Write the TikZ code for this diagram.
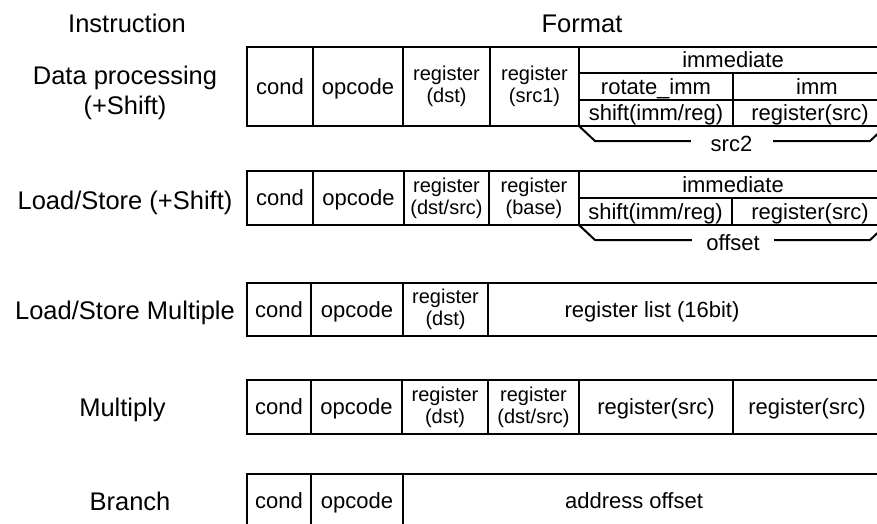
\documentclass[tikz,border=0pt]{standalone}
\usepackage{fontspec}
\setmainfont{Liberation Sans}

\begin{document}
\begin{tikzpicture}[x=1pt, y=-1pt, line width=2pt,
		heading/.style={font=\fontsize{25.5}{28}\selectfont, text height=18pt, text depth=0pt, inner sep=0pt},
		field/.style={font=\fontsize{22}{24}\selectfont, text height=15.8pt, text depth=0pt, inner sep=0pt},
		regfield/.style={font=\fontsize{20}{22}\selectfont, align=center, inner sep=0pt},
		bracelabel/.style={field, fill=white, minimum width=82pt}]
	\useasboundingbox (0,0) rectangle (877,523);
	\clip (0,0) rectangle (877,523);

	\node[heading] (instr) at (127,23.5) {Instruction};
	\node[heading] (format) at (582,23) {Format};

	% instruction names
	\node[heading] (dp) at (125,75) {Data processing};
	\node[heading] (dpshift) at (125,105.5) {(+Shift)};
	\node[heading] (ls) at (125,200) {Load/Store (+Shift)};
	\node[heading] (lsm) at (125,310.5) {Load/Store Multiple};
	\node[heading] (mul) at (122.5,407) {Multiply};
	\node[heading] (br) at (130,501) {Branch};

	% data processing
	\draw (880,47) -- (247,47) -- (247,126) -- (880,126);
	\foreach \x in {313, 403, 490, 579}
		\draw (\x,47) -- (\x,126);
	\draw (579,73) -- (880,73) (579,100) -- (880,100) (733,73) -- (733,126);
	\node[field] (dp-cond) at (280,86.5) {cond};
	\node[field] (dp-op) at (358,86.5) {opcode};
	\node[regfield] (dp-dst) at (446.5,86.5) {register\\(dst)};
	\node[regfield] (dp-src1) at (534.5,86.5) {register\\(src1)};
	\node[field] (dp-imm) at (733,60) {immediate};
	\node[field] (dp-rot) at (656,86.5) {rotate\_imm};
	\node[field] (dp-immval) at (817,86.5) {imm};
	\node[field] (dp-shift) at (656,113) {shift(imm/reg)};
	\node[field] (dp-src) at (810,113) {register(src)};
	\draw (579,126) -- (595,141) -- (870,141) -- (886,126);
	\node[bracelabel] (dp-src2) at (731.5,144) {src2};

	% load/store
	\draw (880,171) -- (247,171) -- (247,225) -- (880,225);
	\foreach \x in {313, 404, 489, 579}
		\draw (\x,171) -- (\x,225);
	\draw (579,198) -- (880,198) (732,198) -- (732,225);
	\node[field] (ls-cond) at (280,198) {cond};
	\node[field] (ls-op) at (358.5,198) {opcode};
	\node[regfield] (ls-dst) at (446.5,198) {register\\(dst/src)};
	\node[regfield] (ls-base) at (534,198) {register\\(base)};
	\node[field] (ls-imm) at (733,184.5) {immediate};
	\node[field] (ls-shift) at (655.5,211.5) {shift(imm/reg)};
	\node[field] (ls-src) at (810,211.5) {register(src)};
	\draw (579,225) -- (595,240) -- (870,240) -- (886,225);
	\node[bracelabel] (ls-offset) at (733,243) {offset};

	% load/store multiple
	\draw (880,283) -- (247,283) -- (247,336) -- (880,336);
	\foreach \x in {311, 403, 488}
		\draw (\x,283) -- (\x,336);
	\node[field] (lsm-cond) at (279,309.5) {cond};
	\node[field] (lsm-op) at (357,309.5) {opcode};
	\node[regfield] (lsm-dst) at (445.5,309.5) {register\\(dst)};
	\node[field] (lsm-list) at (652,309.5) {register list (16bit)};

	% multiply
	\draw (880,380) -- (247,380) -- (247,434) -- (880,434);
	\foreach \x in {311, 402, 488, 579, 733}
		\draw (\x,380) -- (\x,434);
	\node[field] (mul-cond) at (279,407) {cond};
	\node[field] (mul-op) at (356.5,407) {opcode};
	\node[regfield] (mul-dst) at (445,407) {register\\(dst)};
	\node[regfield] (mul-dstsrc) at (533.5,407) {register\\(dst/src)};
	\node[field] (mul-srca) at (656,407) {register(src)};
	\node[field] (mul-srcb) at (807,407) {register(src)};

	% branch
	\draw (880,474) -- (247,474) -- (247,530);
	\foreach \x in {311, 403}
		\draw (\x,474) -- (\x,530);
	\node[field] (br-cond) at (279,501) {cond};
	\node[field] (br-op) at (357,501) {opcode};
	\node[field] (br-addr) at (634,501) {address offset};
\end{tikzpicture}
\end{document}
